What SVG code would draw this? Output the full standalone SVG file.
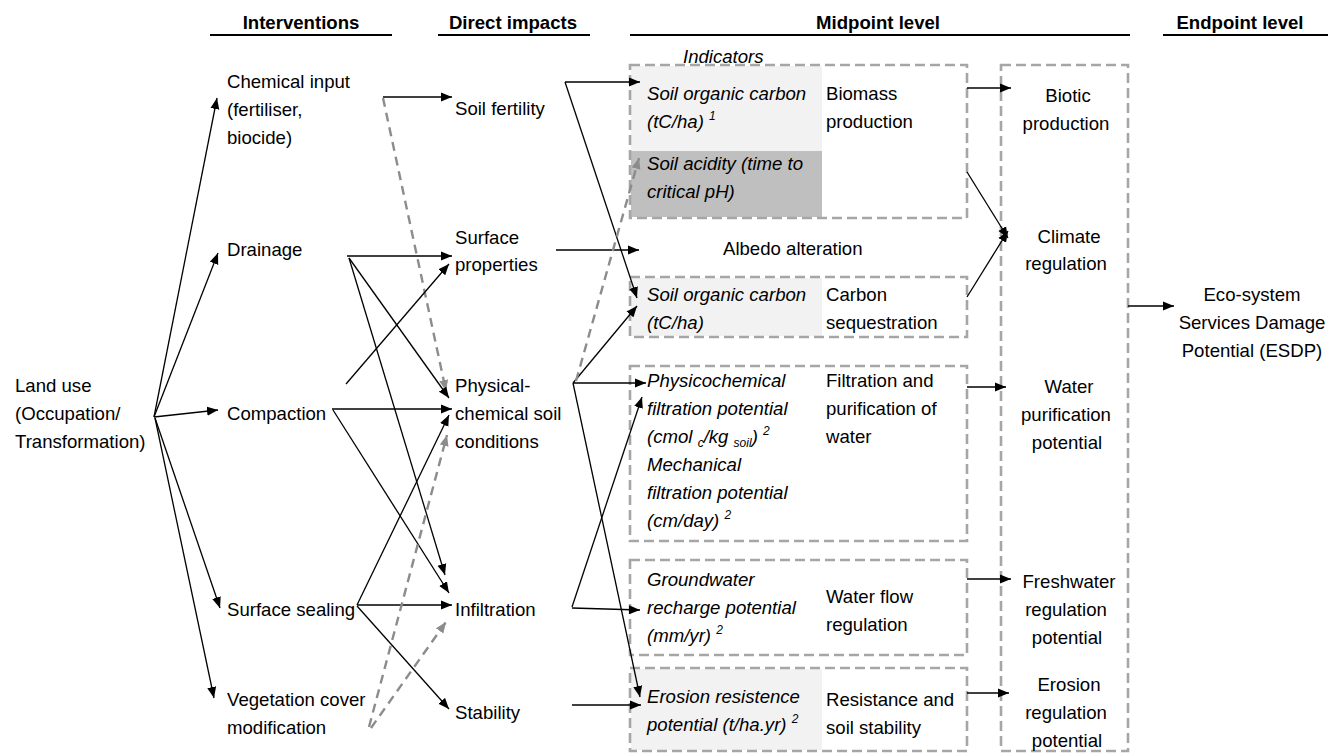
<svg xmlns="http://www.w3.org/2000/svg" width="1328" height="753" viewBox="0 0 1328 753">
<style>
text{font-family:"Liberation Sans",Arial,sans-serif;font-size:18.6px;fill:#000}
.h{font-weight:bold}
.i{font-style:italic}
.m{text-anchor:middle}
.sup{font-size:12px}
.ul{stroke:#000;stroke-width:2}
.box{fill:none;stroke:#a6a6a6;stroke-width:2.6;stroke-dasharray:10 5}
.c{fill:none;stroke:#000;stroke-width:1.3;marker-end:url(#a)}
.g{fill:none;stroke:#8c8c8c;stroke-width:2.4;stroke-dasharray:9 6;marker-end:url(#ga)}
</style>
<defs>
<marker id="a" markerUnits="userSpaceOnUse" markerWidth="11" markerHeight="10" refX="11" refY="5" orient="auto"><path d="M0,0.5 L11,5 L0,9.5 z" fill="#000"/></marker>
<marker id="ga" markerUnits="userSpaceOnUse" markerWidth="11" markerHeight="10" refX="11" refY="5" orient="auto"><path d="M0,0.5 L11,5 L0,9.5 z" fill="#8c8c8c"/></marker>
</defs>
<rect width="1328" height="753" fill="#fff"/>

<g id="headers">
<text class="h m" x="301" y="29">Interventions</text>
<line class="ul" x1="210" y1="35" x2="392" y2="35"/>
<text class="h m" x="513" y="29">Direct impacts</text>
<line class="ul" x1="438" y1="35" x2="590" y2="35"/>
<text class="h m" x="878" y="29">Midpoint level</text>
<line class="ul" x1="630" y1="35" x2="1130" y2="35"/>
<text class="h m" x="1240" y="29">Endpoint level</text>
<line class="ul" x1="1163" y1="35" x2="1328" y2="35"/>
<text class="i" x="683" y="63">Indicators</text>
</g>

<g id="landuse"><text x="15" y="392">Land use</text><text x="15" y="420">(Occupation/</text><text x="15" y="448">Transformation)</text></g>

<g id="chemical"><text x="227" y="88">Chemical input</text><text x="227" y="116">(fertiliser,</text><text x="227" y="144">biocide)</text></g>
<g id="drainage"><text x="227" y="256">Drainage</text></g>
<g id="compaction"><text x="227" y="420">Compaction</text></g>
<g id="sealing"><text x="227" y="616">Surface sealing</text></g>
<g id="vegetation"><text x="227" y="706">Vegetation cover</text><text x="227" y="734">modification</text></g>

<g id="fertility"><text x="455" y="115">Soil fertility</text></g>
<g id="surface"><text x="455" y="244">Surface</text><text x="455" y="271">properties</text></g>
<g id="physchem"><text x="455" y="392">Physical-</text><text x="455" y="420">chemical soil</text><text x="455" y="448">conditions</text></g>
<g id="infiltration"><text x="455" y="616">Infiltration</text></g>
<g id="stability"><text x="455" y="719">Stability</text></g>

<g id="biomass">
<rect x="631" y="66" width="191" height="85" fill="#f2f2f2"/>
<rect x="631" y="151" width="191" height="66" fill="#bfbfbf"/>
<rect class="box" x="630" y="65" width="337" height="153"/>
<text class="i" x="647" y="100">Soil organic carbon</text>
<text class="i" x="647" y="128">(tC/ha) <tspan class="sup" dy="-8">1</tspan></text>
<text class="i" x="647" y="170">Soil acidity (time to</text>
<text class="i" x="647" y="198">critical pH)</text>
<text x="826" y="100">Biomass</text><text x="826" y="128">production</text>
</g>

<g id="albedo"><text x="723" y="255">Albedo alteration</text></g>

<g id="carbon">
<rect x="631" y="278" width="191" height="58" fill="#f2f2f2"/>
<rect class="box" x="630" y="277" width="337" height="60"/>
<text class="i" x="647" y="301">Soil organic carbon</text>
<text class="i" x="647" y="329">(tC/ha)</text>
<text x="826" y="301">Carbon</text><text x="826" y="329">sequestration</text>
</g>

<g id="filtration">
<rect class="box" x="630" y="366" width="337" height="175"/>
<text class="i" x="647" y="387">Physicochemical</text>
<text class="i" x="647" y="415">filtration potential</text>
<text class="i" x="647" y="443">(cmol <tspan class="sup" dy="4">c</tspan><tspan dy="-4">/kg </tspan><tspan class="sup" dy="4">soil</tspan><tspan dy="-4">) </tspan><tspan class="sup" dy="-8">2</tspan></text>
<text class="i" x="647" y="471">Mechanical</text>
<text class="i" x="647" y="499">filtration potential</text>
<text class="i" x="647" y="527">(cm/day) <tspan class="sup" dy="-8">2</tspan></text>
<text x="826" y="387">Filtration and</text><text x="826" y="415">purification of</text><text x="826" y="443">water</text>
</g>

<g id="waterflow">
<rect class="box" x="630" y="560" width="337" height="95"/>
<text class="i" x="647" y="586">Groundwater</text>
<text class="i" x="647" y="614">recharge potential</text>
<text class="i" x="647" y="642">(mm/yr) <tspan class="sup" dy="-8">2</tspan></text>
<text x="826" y="603">Water flow</text><text x="826" y="631">regulation</text>
</g>

<g id="resistance">
<rect x="631" y="669" width="191" height="81" fill="#f2f2f2"/>
<rect class="box" x="630" y="668" width="337" height="83"/>
<text class="i" x="647" y="703">Erosion resistence</text>
<text class="i" x="647" y="731">potential (t/ha.yr) <tspan class="sup" dy="-8">2</tspan></text>
<text x="826" y="706">Resistance and</text><text x="826" y="734">soil stability</text>
</g>

<g id="endpoint">
<rect class="box" x="1001" y="65" width="127" height="686"/>
<text class="m" x="1068" y="102">Biotic</text><text class="m" x="1066" y="130">production</text>
<text class="m" x="1069" y="243">Climate</text><text class="m" x="1066" y="270">regulation</text>
<text class="m" x="1069" y="393">Water</text><text class="m" x="1066" y="421">purification</text><text class="m" x="1067" y="449">potential</text>
<text class="m" x="1069" y="588">Freshwater</text><text class="m" x="1066" y="616">regulation</text><text class="m" x="1067" y="644">potential</text>
<text class="m" x="1069" y="691">Erosion</text><text class="m" x="1066" y="719">regulation</text><text class="m" x="1067" y="747">potential</text>
</g>

<g id="esdp"><text class="m" x="1252" y="301">Eco-system</text><text class="m" x="1252" y="329">Services Damage</text><text class="m" x="1252" y="357">Potential (ESDP)</text></g>

<g id="connectors">
<line class="c" x1="154" y1="417" x2="217" y2="98"/>
<line class="c" x1="154" y1="417" x2="218" y2="253"/>
<line class="c" x1="154" y1="417" x2="218" y2="410"/>
<line class="c" x1="155" y1="418" x2="220" y2="608"/>
<line class="c" x1="155" y1="418" x2="214" y2="698"/>

<line class="c" x1="383" y1="97" x2="452" y2="97"/>
<line class="g" x1="383" y1="98" x2="446" y2="391"/>

<line class="c" x1="347" y1="256" x2="452" y2="256"/>
<line class="c" x1="349" y1="258" x2="449" y2="398"/>
<line class="c" x1="349" y1="258" x2="445" y2="575"/>
<line class="c" x1="346" y1="384" x2="449" y2="264"/>

<line class="c" x1="332" y1="409" x2="452" y2="409"/>
<line class="c" x1="333" y1="410" x2="449" y2="593"/>

<line class="c" x1="357" y1="605" x2="449" y2="415"/>
<line class="c" x1="357" y1="605" x2="452" y2="605"/>
<line class="c" x1="357" y1="606" x2="449" y2="709"/>

<line class="g" x1="369" y1="727" x2="447" y2="435"/>
<line class="g" x1="371" y1="728" x2="446" y2="622"/>

<polyline class="c" points="565,82 640,82"/>
<line class="c" x1="565" y1="82" x2="637" y2="298"/>
<line class="c" x1="556" y1="250" x2="639" y2="250"/>

<line class="c" x1="573" y1="383" x2="646" y2="383"/>
<line class="c" x1="573" y1="383" x2="637" y2="306"/>
<line class="g" x1="576" y1="381" x2="639" y2="158"/>
<line class="c" x1="573" y1="383" x2="640" y2="697"/>

<line class="c" x1="572" y1="608" x2="640" y2="610"/>
<line class="c" x1="572" y1="607" x2="642" y2="397"/>
<line class="c" x1="572" y1="705" x2="641" y2="705"/>

<line class="c" x1="967" y1="88" x2="1011" y2="88"/>
<line class="c" x1="967" y1="172" x2="1008" y2="238"/>
<line class="c" x1="967" y1="297" x2="1008" y2="231"/>
<line class="c" x1="967" y1="387" x2="1006" y2="387"/>
<line class="c" x1="967" y1="579" x2="1011" y2="579"/>
<line class="c" x1="967" y1="693" x2="1009" y2="693"/>
<line class="c" x1="1128" y1="306" x2="1174" y2="306"/>
</g>
</svg>
